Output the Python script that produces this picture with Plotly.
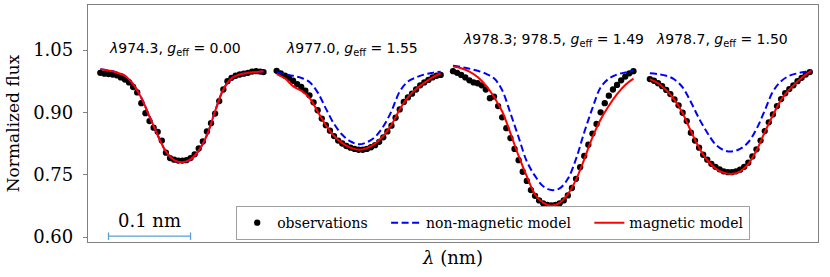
import plotly.graph_objects as go

# ---------------- data (wavelength axis in nm, arbitrary zero at left edge) ----------------
OBS1_X = [0.015, 0.020, 0.025, 0.030, 0.035, 0.040, 0.045, 0.050, 0.055, 0.060, 0.065, 0.070,
          0.075, 0.080, 0.085, 0.090, 0.095, 0.100, 0.105, 0.110, 0.115, 0.120, 0.125, 0.130,
          0.135, 0.140, 0.145, 0.150, 0.155, 0.160, 0.165, 0.170, 0.175, 0.180, 0.185, 0.190,
          0.195, 0.200, 0.205, 0.210, 0.214]
OBS1_Y = [0.995, 0.993, 0.992, 0.991, 0.989, 0.984, 0.979, 0.972, 0.961, 0.948, 0.922, 0.898,
          0.879, 0.863, 0.853, 0.832, 0.803, 0.790, 0.786, 0.784, 0.784, 0.785, 0.790, 0.799,
          0.813, 0.830, 0.854, 0.874, 0.897, 0.927, 0.955, 0.975, 0.983, 0.988, 0.991, 0.993,
          0.995, 0.998, 0.999, 0.998, 0.997]
MOD1_X = [0.015, 0.025, 0.035, 0.045, 0.055, 0.065, 0.075, 0.085, 0.095, 0.105, 0.115, 0.125,
          0.135, 0.145, 0.155, 0.165, 0.175, 0.185, 0.195, 0.205, 0.214]
MAG1_Y = [1.004, 1.001, 0.996, 0.988, 0.968, 0.935, 0.890, 0.845, 0.806, 0.785, 0.780, 0.787,
          0.808, 0.845, 0.903, 0.955, 0.982, 0.991, 0.995, 0.997, 0.999]
NONMAG1_Y = [1.004, 1.001, 0.996, 0.988, 0.968, 0.935, 0.890, 0.845, 0.806, 0.785, 0.780, 0.787,
             0.808, 0.845, 0.903, 0.955, 0.982, 0.991, 0.995, 0.997, 0.999]

OBS2_X = [0.230, 0.235, 0.240, 0.245, 0.250, 0.255, 0.260, 0.265, 0.270, 0.275, 0.280, 0.285,
          0.290, 0.295, 0.300, 0.305, 0.310, 0.315, 0.320, 0.325, 0.330, 0.335, 0.340, 0.345,
          0.350, 0.355, 0.360, 0.365, 0.370, 0.375, 0.380, 0.385, 0.390, 0.395, 0.400, 0.405,
          0.410, 0.415, 0.420, 0.425, 0.430]
OBS2_Y = [1.000, 0.994, 0.988, 0.983, 0.976, 0.968, 0.961, 0.952, 0.941, 0.924, 0.905, 0.885,
          0.869, 0.856, 0.843, 0.832, 0.825, 0.819, 0.815, 0.812, 0.810, 0.810, 0.812, 0.816,
          0.821, 0.829, 0.840, 0.854, 0.868, 0.887, 0.907, 0.925, 0.936, 0.945, 0.955, 0.965,
          0.972, 0.978, 0.984, 0.988, 0.990]
MOD2_X = [0.230, 0.240, 0.250, 0.260, 0.270, 0.280, 0.290, 0.300, 0.310, 0.320, 0.330, 0.340,
          0.350, 0.360, 0.370, 0.380, 0.390, 0.400, 0.410, 0.420, 0.430]
MAG2_Y = [0.992, 0.982, 0.963, 0.952, 0.935, 0.902, 0.869, 0.843, 0.826, 0.815, 0.810, 0.814,
          0.825, 0.843, 0.870, 0.907, 0.936, 0.956, 0.971, 0.984, 0.994]
NONMAG2_Y = [0.996, 0.992, 0.988, 0.983, 0.973, 0.948, 0.909, 0.872, 0.846, 0.830, 0.823, 0.828,
             0.841, 0.866, 0.903, 0.950, 0.974, 0.984, 0.991, 0.995, 0.998]

OBS3_X = [0.445, 0.450, 0.455, 0.460, 0.465, 0.470, 0.475, 0.480, 0.485, 0.490, 0.495, 0.500,
          0.505, 0.510, 0.515, 0.520, 0.525, 0.530, 0.535, 0.540, 0.545, 0.550, 0.555, 0.560,
          0.565, 0.570, 0.575, 0.580, 0.585, 0.590, 0.595, 0.600, 0.605, 0.610, 0.615, 0.620,
          0.625, 0.630, 0.635, 0.640, 0.645, 0.650, 0.655, 0.660, 0.665]
OBS3_Y = [0.999, 0.995, 0.990, 0.984, 0.977, 0.972, 0.970, 0.965, 0.955, 0.934, 0.938, 0.915,
          0.888, 0.862, 0.838, 0.812, 0.785, 0.757, 0.735, 0.713, 0.699, 0.688, 0.681, 0.677,
          0.676, 0.677, 0.681, 0.688, 0.700, 0.718, 0.740, 0.768, 0.795, 0.822, 0.849, 0.872,
          0.900, 0.922, 0.940, 0.955, 0.966, 0.977, 0.986, 0.994, 0.999]
MOD3_X = [0.445, 0.455, 0.465, 0.475, 0.485, 0.495, 0.505, 0.515, 0.525, 0.535, 0.545, 0.555,
          0.565, 0.575, 0.585, 0.595, 0.605, 0.615, 0.625, 0.635, 0.645, 0.655, 0.665]
MAG3_Y = [1.010, 1.006, 0.998, 0.985, 0.965, 0.937, 0.902, 0.850, 0.795, 0.746, 0.703, 0.682,
          0.675, 0.682, 0.703, 0.738, 0.787, 0.840, 0.883, 0.916, 0.944, 0.966, 0.981]
NONMAG3_Y = [1.012, 1.009, 1.005, 1.000, 0.993, 0.982, 0.953, 0.898, 0.840, 0.782, 0.747, 0.722,
             0.713, 0.717, 0.740, 0.788, 0.852, 0.910, 0.960, 0.981, 0.991, 0.996, 1.000]

OBS4_X = [0.685, 0.690, 0.695, 0.700, 0.705, 0.710, 0.715, 0.720, 0.725, 0.730, 0.735, 0.740,
          0.745, 0.750, 0.755, 0.760, 0.765, 0.770, 0.775, 0.780, 0.785, 0.790, 0.795, 0.800,
          0.805, 0.810, 0.815, 0.820, 0.825, 0.830, 0.835, 0.840, 0.845, 0.850, 0.855, 0.860,
          0.865, 0.870, 0.875, 0.880]
OBS4_Y = [0.980, 0.976, 0.970, 0.963, 0.954, 0.944, 0.931, 0.917, 0.899, 0.879, 0.851, 0.832,
          0.815, 0.798, 0.786, 0.776, 0.769, 0.763, 0.758, 0.756, 0.756, 0.758, 0.762, 0.769,
          0.779, 0.794, 0.811, 0.832, 0.855, 0.876, 0.895, 0.915, 0.932, 0.946, 0.956, 0.965,
          0.975, 0.983, 0.991, 0.997]
MOD4_X = [0.685, 0.695, 0.705, 0.715, 0.725, 0.735, 0.745, 0.755, 0.765, 0.775, 0.785, 0.795,
          0.805, 0.815, 0.825, 0.835, 0.845, 0.855, 0.865, 0.875, 0.882]
MAG4_Y = [0.980, 0.970, 0.953, 0.930, 0.898, 0.855, 0.815, 0.785, 0.765, 0.755, 0.752, 0.758,
          0.776, 0.808, 0.852, 0.893, 0.930, 0.955, 0.974, 0.991, 1.000]
NONMAG4_Y = [0.994, 0.992, 0.988, 0.979, 0.960, 0.925, 0.885, 0.851, 0.823, 0.809, 0.806, 0.812,
             0.828, 0.860, 0.904, 0.950, 0.975, 0.988, 0.994, 0.998, 1.000]

LINE_LABELS = ["<i>λ</i>974.3, <i>g</i><sub>eff</sub> = 0.00",
               "<i>λ</i>977.0, <i>g</i><sub>eff</sub> = 1.55",
               "<i>λ</i>978.3; 978.5, <i>g</i><sub>eff</sub> = 1.49",
               "<i>λ</i>978.7, <i>g</i><sub>eff</sub> = 1.50"]
LABEL_X = [0.106, 0.322, 0.567, 0.773]
LABEL_Y = [1.052, 1.052, 1.074, 1.074]

SERIES_NAMES = ["observations", "non-magnetic model", "magnetic model"]

Y_TICKS = [0.60, 0.75, 0.90, 1.05]
Y_TICK_TEXT = ["0.60", "0.75", "0.90", "1.05"]
Y_RANGE = [0.588, 1.1583]
X_RANGE = [0.0, 0.890]

SCALE_BAR_X = [0.025, 0.125]   # 0.1 nm
SCALE_BAR_Y = 0.602
SCALE_BAR_LABEL = "0.1 nm"


def join(*segs):
    out = []
    for i, s in enumerate(segs):
        if i:
            out.append(None)
        out.extend(s)
    return out


SERIF = "DejaVu Serif"
SANS = "DejaVu Sans"
PAD = "\u00a0\u00a0\u00a0"

fig = go.Figure()
fig.add_trace(go.Scatter(
    x=join(OBS1_X, OBS2_X, OBS3_X, OBS4_X), y=join(OBS1_Y, OBS2_Y, OBS3_Y, OBS4_Y),
    mode="markers", name=SERIES_NAMES[0] + PAD,
    marker=dict(color="black", size=6.3, line=dict(width=0)),
))
fig.add_trace(go.Scatter(
    x=join(MOD1_X, MOD2_X, MOD3_X, MOD4_X), y=join(NONMAG1_Y, NONMAG2_Y, NONMAG3_Y, NONMAG4_Y),
    mode="lines", name=SERIES_NAMES[1] + PAD, line_shape="spline",
    line=dict(color="#0000ff", width=2, dash="7px,3.5px"),
))
fig.add_trace(go.Scatter(
    x=join(MOD1_X, MOD2_X, MOD3_X, MOD4_X), y=join(MAG1_Y, MAG2_Y, MAG3_Y, MAG4_Y),
    mode="lines", name=SERIES_NAMES[2], line_shape="spline",
    line=dict(color="#ff0000", width=2),
))

# scale bar
fig.add_trace(go.Scatter(
    x=SCALE_BAR_X, y=[SCALE_BAR_Y, SCALE_BAR_Y], mode="lines", showlegend=False,
    line=dict(color="#5b9fd6", width=1.3), hoverinfo="skip",
    error_y=dict(type="constant", value=0.009, color="#5b9fd6", thickness=1.3, width=0),
))

annotations = []
for txt, lx, ly in zip(LINE_LABELS, LABEL_X, LABEL_Y):
    annotations.append(dict(x=lx, y=ly, xref="x", yref="y", text=txt, showarrow=False,
                            font=dict(family=SANS, size=14, color="black"),
                            xanchor="center", yanchor="middle"))
annotations.append(dict(x=sum(SCALE_BAR_X) / 2, y=0.639, xref="x", yref="y",
                        text=SCALE_BAR_LABEL, showarrow=False,
                        font=dict(family=SERIF, size=18, color="black"),
                        xanchor="center", yanchor="middle"))

fig.update_layout(
    width=830, height=277,
    margin=dict(l=88, r=12, t=5, b=35, autoexpand=False),
    paper_bgcolor="white", plot_bgcolor="white",
    showlegend=True,
    legend=dict(orientation="h", x=0.203, xanchor="left", y=0.008, yanchor="bottom",
                bgcolor="white", bordercolor="#a0a0a0", borderwidth=1,
                font=dict(family=SERIF, size=14, color="black"),
                itemwidth=30, tracegroupgap=0),
    annotations=annotations,
)
fig.update_xaxes(range=X_RANGE, showticklabels=False, ticks="", showgrid=False, zeroline=False,
                 showline=True, mirror=True, linecolor="#808080", linewidth=1.3, automargin=False,
                 title=dict(text="<i>λ</i> (nm)", font=dict(family=SERIF, size=18, color="black"),
                            standoff=9))
fig.update_yaxes(range=Y_RANGE, tickvals=Y_TICKS, ticktext=Y_TICK_TEXT, ticks="outside",
                 ticklen=4, tickcolor="#808080", tickwidth=1.2, showgrid=False, zeroline=False,
                 showline=True, mirror=True, linecolor="#808080", linewidth=1.3, automargin=False,
                 tickfont=dict(family=SERIF, size=18, color="black"), ticklabelstandoff=6,
                 title=dict(text="Normalized flux", font=dict(family=SERIF, size=17, color="black"),
                            standoff=9))

fig.write_html("out.html", config={"displayModeBar": False},
               post_script="document.body.style.margin='0';document.body.style.overflow='hidden';")
